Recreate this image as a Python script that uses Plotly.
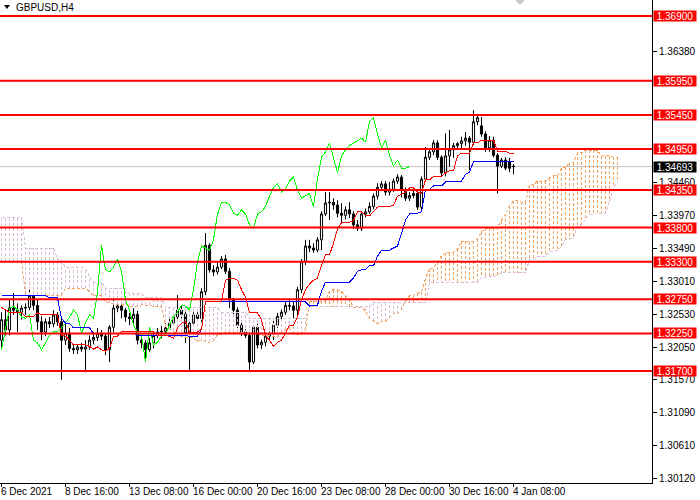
import plotly.graph_objects as go

# ---------------- data (GBPUSD H4) ----------------
time_labels = ["6 Dec 2021", "8 Dec 16:00", "13 Dec 08:00", "16 Dec 00:00", "20 Dec 16:00",
               "23 Dec 08:00", "28 Dec 00:00", "30 Dec 16:00", "4 Jan 08:00"]
label_bars = [0, 16, 32, 48, 64, 80, 96, 112, 128]

open_ = [1.3215, 1.3245, 1.3230, 1.3262, 1.3259, 1.3256, 1.3262, 1.3263, 1.3280, 1.3266,
         1.3242, 1.3227, 1.3242, 1.3239, 1.3252, 1.3242, 1.3215, 1.3225, 1.3203, 1.3201,
         1.3205, 1.3202, 1.3205, 1.3215, 1.3219, 1.3225, 1.3221, 1.3201, 1.3234, 1.3262,
         1.3265, 1.3259, 1.3249, 1.3247, 1.3253, 1.3215, 1.3211, 1.3201, 1.3211, 1.3222,
         1.3227, 1.3228, 1.3233, 1.3240, 1.3249, 1.3259, 1.3253, 1.3225, 1.3240, 1.3252,
         1.3247, 1.3286, 1.3354, 1.3318, 1.3315, 1.3322, 1.3334, 1.3316, 1.3274, 1.3259,
         1.3237, 1.3227, 1.3222, 1.3183, 1.3234, 1.3208, 1.3212, 1.3221, 1.3224, 1.3237,
         1.3250, 1.3256, 1.3266, 1.3265, 1.3259, 1.3289, 1.3330, 1.3353, 1.3350, 1.3347,
         1.3362, 1.3400, 1.3416, 1.3417, 1.3413, 1.3401, 1.3398, 1.3406, 1.3400, 1.3384,
         1.3379, 1.3400, 1.3403, 1.3411, 1.3426, 1.3439, 1.3444, 1.3432, 1.3436, 1.3448,
         1.3454, 1.3435, 1.3423, 1.3427, 1.3430, 1.3410, 1.3451, 1.3483, 1.3491, 1.3504,
         1.3483, 1.3460, 1.3485, 1.3494, 1.3500, 1.3503, 1.3507, 1.3511, 1.3505, 1.3535,
         1.3529, 1.3517, 1.3497, 1.3508, 1.3486, 1.3470, 1.3479, 1.3477, 1.3470]

high = [1.3256, 1.3259, 1.3274, 1.3284, 1.3269, 1.3266, 1.3269, 1.3289, 1.3286, 1.3274,
        1.3250, 1.3247, 1.3249, 1.3259, 1.3256, 1.3247, 1.3242, 1.3233, 1.3209, 1.3209,
        1.3211, 1.3215, 1.3222, 1.3227, 1.3233, 1.3230, 1.3225, 1.3237, 1.3274, 1.3271,
        1.3269, 1.3262, 1.3255, 1.3262, 1.3258, 1.3222, 1.3215, 1.3218, 1.3227, 1.3233,
        1.3236, 1.3240, 1.3247, 1.3253, 1.3281, 1.3265, 1.3258, 1.3245, 1.3256, 1.3256,
        1.3291, 1.3372, 1.3357, 1.3325, 1.3330, 1.3338, 1.3340, 1.3321, 1.3277, 1.3263,
        1.3242, 1.3231, 1.3225, 1.3237, 1.3239, 1.3216, 1.3225, 1.3228, 1.3243, 1.3255,
        1.3260, 1.3271, 1.3274, 1.3271, 1.3293, 1.3334, 1.3362, 1.3362, 1.3357, 1.3366,
        1.3404, 1.3432, 1.3432, 1.3423, 1.3420, 1.3416, 1.3411, 1.3417, 1.3404, 1.3391,
        1.3404, 1.3408, 1.3417, 1.3430, 1.3445, 1.3448, 1.3448, 1.3447, 1.3452, 1.3458,
        1.3457, 1.3439, 1.3432, 1.3436, 1.3435, 1.3455, 1.3498, 1.3495, 1.3508, 1.3508,
        1.3486, 1.3518, 1.3523, 1.3504, 1.3505, 1.3513, 1.3520, 1.3514, 1.3552, 1.3546,
        1.3542, 1.3521, 1.3514, 1.3513, 1.3489, 1.3482, 1.3483, 1.3482, 1.3473]

low = [1.3201, 1.3222, 1.3222, 1.3252, 1.3227, 1.3245, 1.3252, 1.3259, 1.3259, 1.3230,
       1.3215, 1.3221, 1.3233, 1.3234, 1.3236, 1.3157, 1.3208, 1.3198, 1.3195, 1.3195,
       1.3198, 1.3168, 1.3201, 1.3209, 1.3214, 1.3215, 1.3193, 1.3183, 1.3227, 1.3256,
       1.3247, 1.3242, 1.3237, 1.3240, 1.3209, 1.3203, 1.3183, 1.3198, 1.3203, 1.3218,
       1.3218, 1.3225, 1.3230, 1.3236, 1.3245, 1.3247, 1.3211, 1.3171, 1.3236, 1.3242,
       1.3242, 1.3281, 1.3314, 1.3309, 1.3311, 1.3319, 1.3312, 1.3262, 1.3253, 1.3233,
       1.3221, 1.3218, 1.3168, 1.3180, 1.3203, 1.3202, 1.3206, 1.3214, 1.3215, 1.3233,
       1.3246, 1.3252, 1.3259, 1.3247, 1.3247, 1.3284, 1.3325, 1.3344, 1.3343, 1.3344,
       1.3347, 1.3397, 1.3391, 1.3406, 1.3395, 1.3388, 1.3392, 1.3394, 1.3378, 1.3375,
       1.3375, 1.3395, 1.3400, 1.3407, 1.3421, 1.3435, 1.3427, 1.3427, 1.3432, 1.3444,
       1.3424, 1.3419, 1.3419, 1.3423, 1.3406, 1.3403, 1.3447, 1.3479, 1.3486, 1.3479,
       1.3455, 1.3455, 1.3469, 1.3482, 1.3494, 1.3495, 1.3500, 1.3464, 1.3501, 1.3530,
       1.3513, 1.3491, 1.3491, 1.3483, 1.3430, 1.3467, 1.3464, 1.3461, 1.3458]

close = [1.3245, 1.3230, 1.3262, 1.3259, 1.3256, 1.3262, 1.3263, 1.3280, 1.3266, 1.3242,
         1.3227, 1.3242, 1.3239, 1.3252, 1.3242, 1.3215, 1.3225, 1.3203, 1.3201, 1.3205,
         1.3202, 1.3205, 1.3215, 1.3219, 1.3225, 1.3221, 1.3201, 1.3234, 1.3262, 1.3265,
         1.3259, 1.3249, 1.3247, 1.3253, 1.3215, 1.3211, 1.3201, 1.3211, 1.3222, 1.3227,
         1.3228, 1.3233, 1.3240, 1.3249, 1.3259, 1.3253, 1.3225, 1.3240, 1.3252, 1.3247,
         1.3286, 1.3354, 1.3318, 1.3315, 1.3322, 1.3334, 1.3316, 1.3274, 1.3259, 1.3237,
         1.3227, 1.3222, 1.3183, 1.3234, 1.3208, 1.3212, 1.3221, 1.3224, 1.3237, 1.3250,
         1.3256, 1.3266, 1.3265, 1.3259, 1.3289, 1.3330, 1.3353, 1.3350, 1.3347, 1.3362,
         1.3400, 1.3416, 1.3417, 1.3413, 1.3401, 1.3398, 1.3406, 1.3400, 1.3384, 1.3379,
         1.3400, 1.3403, 1.3411, 1.3426, 1.3439, 1.3444, 1.3432, 1.3436, 1.3448, 1.3454,
         1.3435, 1.3423, 1.3427, 1.3430, 1.3410, 1.3451, 1.3483, 1.3491, 1.3504, 1.3483,
         1.3460, 1.3485, 1.3494, 1.3500, 1.3503, 1.3507, 1.3511, 1.3505, 1.3535, 1.3541,
         1.3517, 1.3497, 1.3508, 1.3486, 1.3470, 1.3479, 1.3467, 1.3467, 1.34693]

tenkan = [1.3263, 1.3259, 1.3256, 1.3256, 1.3256, 1.3256, 1.3250, 1.3250, 1.3250, 1.3255,
          1.3252, 1.3252, 1.3252, 1.3252, 1.3252, 1.3222, 1.3221, 1.3215, 1.3208, 1.3208,
          1.3208, 1.3208, 1.3206, 1.3202, 1.3205, 1.3201, 1.3199, 1.3203, 1.3221, 1.3221,
          1.3228, 1.3228, 1.3228, 1.3228, 1.3228, 1.3228, 1.3228, 1.3227, 1.3227, 1.3222,
          1.3222, 1.3222, 1.3221, 1.3218, 1.3233, 1.3240, 1.3243, 1.3227, 1.3227, 1.3227,
          1.3231, 1.3272, 1.3272, 1.3272, 1.3272, 1.3272, 1.3303, 1.3306, 1.3306, 1.3303,
          1.3289, 1.3278, 1.3255, 1.3255, 1.3255, 1.3245, 1.3222, 1.3215, 1.3206, 1.3212,
          1.3215, 1.3225, 1.3237, 1.3237, 1.3249, 1.3274, 1.3289, 1.3297, 1.3303, 1.3306,
          1.3325, 1.3340, 1.3340, 1.3357, 1.3378, 1.3387, 1.3387, 1.3388, 1.3390, 1.3403,
          1.3403, 1.3398, 1.3397, 1.3403, 1.3410, 1.3411, 1.3411, 1.3411, 1.3413, 1.3426,
          1.3429, 1.3432, 1.3438, 1.3438, 1.3432, 1.3430, 1.3450, 1.3450, 1.3455, 1.3455,
          1.3455, 1.3460, 1.3463, 1.3463, 1.3485, 1.3489, 1.3489, 1.3489, 1.3504, 1.3504,
          1.3508, 1.3508, 1.3508, 1.3508, 1.3492, 1.3492, 1.3492, 1.3489, 1.3488]

kijun = [1.3280, 1.3280, 1.3280, 1.3280, 1.3280, 1.3280, 1.3280, 1.3280, 1.3280, 1.3280,
         1.3280, 1.3280, 1.3277, 1.3277, 1.3277, 1.3247, 1.3240, 1.3240, 1.3233, 1.3233,
         1.3233, 1.3233, 1.3233, 1.3225, 1.3225, 1.3225, 1.3225, 1.3225, 1.3225, 1.3225,
         1.3225, 1.3225, 1.3225, 1.3225, 1.3222, 1.3222, 1.3222, 1.3222, 1.3222, 1.3222,
         1.3222, 1.3222, 1.3221, 1.3221, 1.3221, 1.3221, 1.3221, 1.3221, 1.3221, 1.3221,
         1.3231, 1.3271, 1.3271, 1.3271, 1.3271, 1.3271, 1.3271, 1.3271, 1.3271, 1.3271,
         1.3271, 1.3271, 1.3271, 1.3271, 1.3271, 1.3271, 1.3271, 1.3271, 1.3271, 1.3271,
         1.3271, 1.3271, 1.3271, 1.3271, 1.3271, 1.3271, 1.3271, 1.3265, 1.3265, 1.3266,
         1.3287, 1.3300, 1.3300, 1.3300, 1.3300, 1.3300, 1.3300, 1.3300, 1.3306, 1.3316,
         1.3318, 1.3319, 1.3324, 1.3324, 1.3338, 1.3347, 1.3347, 1.3347, 1.3350, 1.3353,
         1.3371, 1.3391, 1.3400, 1.3400, 1.3401, 1.3403, 1.3436, 1.3436, 1.3441, 1.3441,
         1.3441, 1.3447, 1.3448, 1.3448, 1.3448, 1.3448, 1.3458, 1.3461, 1.3477, 1.3477,
         1.3477, 1.3477, 1.3477, 1.3477, 1.3477, 1.3477, 1.3477, 1.3477, 1.3477]

span_a = [1.3331, 1.3331, 1.3331, 1.3331, 1.3331, 1.3331, 1.3281, 1.3281, 1.3281, 1.3281,
          1.3281, 1.3281, 1.3281, 1.3281, 1.3281, 1.3281, 1.3291, 1.3291, 1.3291, 1.3291,
          1.3291, 1.3291, 1.3286, 1.3280, 1.3280, 1.3280, 1.3272, 1.3269, 1.3268, 1.3268,
          1.3268, 1.3268, 1.3265, 1.3265, 1.3265, 1.3267, 1.3266, 1.3266, 1.3264, 1.3264,
          1.3264, 1.3235, 1.3231, 1.3228, 1.3220, 1.3220, 1.3220, 1.3220, 1.3219, 1.3213,
          1.3215, 1.3213, 1.3212, 1.3214, 1.3223, 1.3223, 1.3227, 1.3227, 1.3227, 1.3227,
          1.3225, 1.3225, 1.3225, 1.3225, 1.3225, 1.3222, 1.3222, 1.3222, 1.3221, 1.3219,
          1.3227, 1.3231, 1.3232, 1.3224, 1.3224, 1.3224, 1.3231, 1.3272, 1.3272, 1.3272,
          1.3272, 1.3272, 1.3287, 1.3289, 1.3289, 1.3287, 1.3280, 1.3275, 1.3263, 1.3263,
          1.3263, 1.3258, 1.3247, 1.3243, 1.3239, 1.3242, 1.3243, 1.3248, 1.3254, 1.3254,
          1.3260, 1.3272, 1.3280, 1.3281, 1.3284, 1.3286, 1.3306, 1.3320, 1.3320, 1.3329,
          1.3339, 1.3343, 1.3343, 1.3344, 1.3348, 1.3360, 1.3360, 1.3359, 1.3360, 1.3363,
          1.3374, 1.3379, 1.3379, 1.3379, 1.3381, 1.3390, 1.3400, 1.3412, 1.3419, 1.3419,
          1.3417, 1.3417, 1.3443, 1.3443, 1.3448, 1.3448, 1.3448, 1.3453, 1.3456, 1.3456,
          1.3467, 1.3469, 1.3474, 1.3475, 1.3490, 1.3490, 1.3493, 1.3493, 1.3493, 1.3493,
          1.3485, 1.3485, 1.3485, 1.3483, 1.3483]

span_b = [1.3395, 1.3395, 1.3395, 1.3395, 1.3395, 1.3395, 1.3350, 1.3350, 1.3350, 1.3350,
          1.3350, 1.3350, 1.3350, 1.3350, 1.3333, 1.3333, 1.3321, 1.3321, 1.3321, 1.3321,
          1.3321, 1.3321, 1.3308, 1.3300, 1.3300, 1.3300, 1.3291, 1.3291, 1.3291, 1.3291,
          1.3291, 1.3291, 1.3283, 1.3283, 1.3283, 1.3283, 1.3277, 1.3277, 1.3277, 1.3277,
          1.3277, 1.3263, 1.3263, 1.3263, 1.3263, 1.3263, 1.3263, 1.3263, 1.3263, 1.3263,
          1.3263, 1.3263, 1.3263, 1.3263, 1.3263, 1.3256, 1.3256, 1.3256, 1.3256, 1.3256,
          1.3256, 1.3256, 1.3247, 1.3247, 1.3247, 1.3247, 1.3247, 1.3247, 1.3247, 1.3247,
          1.3247, 1.3247, 1.3247, 1.3247, 1.3247, 1.3247, 1.3247, 1.3264, 1.3264, 1.3264,
          1.3264, 1.3264, 1.3264, 1.3264, 1.3264, 1.3264, 1.3264, 1.3264, 1.3264, 1.3264,
          1.3264, 1.3264, 1.3264, 1.3270, 1.3270, 1.3270, 1.3270, 1.3270, 1.3270, 1.3270,
          1.3270, 1.3270, 1.3270, 1.3270, 1.3270, 1.3270, 1.3270, 1.3300, 1.3300, 1.3300,
          1.3300, 1.3300, 1.3300, 1.3300, 1.3300, 1.3300, 1.3300, 1.3300, 1.3300, 1.3300,
          1.3307, 1.3308, 1.3308, 1.3308, 1.3311, 1.3314, 1.3314, 1.3314, 1.3314, 1.3314,
          1.3314, 1.3314, 1.3333, 1.3333, 1.3338, 1.3338, 1.3338, 1.3344, 1.3346, 1.3346,
          1.3352, 1.3363, 1.3363, 1.3365, 1.3383, 1.3384, 1.3393, 1.3399, 1.3400, 1.3400,
          1.3400, 1.3400, 1.3418, 1.3439, 1.3448]

levels = [1.3690, 1.3595, 1.3545, 1.3495, 1.3435, 1.3380, 1.3330, 1.3275, 1.3225, 1.3170]
level_labels = ["1.36900", "1.35950", "1.35450", "1.34950", "1.34350",
                "1.33800", "1.33300", "1.32750", "1.32250", "1.31700"]
price_ticks = [1.36380, 1.34460, 1.33970, 1.33490, 1.33010, 1.32530, 1.32050,
               1.31570, 1.31090, 1.30610, 1.30120]
bid_price = 1.34693
bid_label = "1.34693"
chikou_shift = 26

# ---------------- figure ----------------
FONT = "Liberation Sans"
PW, PH = 652, 483          # plot area in pixels
ORANGE = "#F4A460"
THISTLE = "#D8BFD8"

fig = go.Figure()
bars = list(range(len(close)))
cloud_x = list(range(len(span_a)))

# cloud hatching (one dotted vertical line per bar)
hx_o, hy_o, hx_t, hy_t = [], [], [], []
for i, a, b in zip(cloud_x, span_a, span_b):
    if a >= b:
        hx_o += [i, i, None]; hy_o += [a, b, None]
    else:
        hx_t += [i, i, None]; hy_t += [a, b, None]
hatch_line = dict(width=1, dash="3px,2px")
fig.add_trace(go.Scatter(x=hx_o, y=hy_o, mode="lines", line=dict(color=ORANGE, **hatch_line),
                         hoverinfo="skip", showlegend=False))
fig.add_trace(go.Scatter(x=hx_t, y=hy_t, mode="lines", line=dict(color=THISTLE, **hatch_line),
                         hoverinfo="skip", showlegend=False))
fig.add_trace(go.Scatter(x=cloud_x, y=span_a, mode="lines", line=dict(color=ORANGE, **hatch_line),
                         hoverinfo="skip", showlegend=False))
fig.add_trace(go.Scatter(x=cloud_x, y=span_b, mode="lines", line=dict(color=THISTLE, **hatch_line),
                         hoverinfo="skip", showlegend=False))

# candles
fig.add_trace(go.Candlestick(
    x=bars, open=open_, high=high, low=low, close=close,
    increasing=dict(line=dict(color="black", width=1), fillcolor="white"),
    decreasing=dict(line=dict(color="black", width=1), fillcolor="black"),
    whiskerwidth=0, hoverinfo="skip", showlegend=False))

# chikou, kijun, tenkan
fig.add_trace(go.Scatter(x=[i - chikou_shift for i in bars[chikou_shift:]], y=close[chikou_shift:],
                         mode="lines", line=dict(color="#00FF00", width=1), hoverinfo="skip", showlegend=False))
fig.add_trace(go.Scatter(x=bars, y=kijun, mode="lines", line=dict(color="#0000FF", width=1),
                         hoverinfo="skip", showlegend=False))
fig.add_trace(go.Scatter(x=bars, y=tenkan, mode="lines", line=dict(color="#FF0000", width=1),
                         hoverinfo="skip", showlegend=False))

shapes = []
shapes.append(dict(type="line", xref="paper", x0=0, x1=1, yref="y", y0=bid_price, y1=bid_price,
                   line=dict(color="#C0C0C0", width=1), layer="below"))
for lv in levels:
    shapes.append(dict(type="line", xref="paper", x0=0, x1=1, yref="y", y0=lv, y1=lv,
                       line=dict(color="#FF0000", width=2), layer="above"))
shapes.append(dict(type="path", xref="paper", yref="paper",
                   path=f"M {4/PW} {1-5/PH} L {10/PW} {1-5/PH} L {7/PW} {1-9/PH} Z",
                   fillcolor="black", line=dict(width=0)))
shapes.append(dict(type="path", xref="paper", yref="paper",
                   path=f"M {515/PW} {1} L {525/PW} {1} L {520/PW} {1-5/PH} Z",
                   fillcolor="#C8C8C8", line=dict(width=0)))

annotations = []
for lv, txt in zip(levels, level_labels):
    annotations.append(dict(xref="paper", x=1, xanchor="left", xshift=1, yref="y", y=lv, yanchor="middle",
                            text=txt, showarrow=False, bgcolor="#FF0000", borderpad=0.5,
                            width=41, height=9, font=dict(family=FONT, size=10, color="white")))
annotations.append(dict(xref="paper", x=1, xanchor="left", xshift=1, yref="y", y=bid_price, yanchor="middle",
                        text=bid_label, showarrow=False, bgcolor="black", borderpad=0.5,
                        width=41, height=9, font=dict(family=FONT, size=10, color="white")))
for b, txt in zip(label_bars, time_labels):
    annotations.append(dict(xref="x", x=b, xanchor="left", xshift=-2, yref="paper", y=0, yanchor="top",
                            yshift=-2, text=txt, showarrow=False, borderpad=0,
                            font=dict(family=FONT, size=10, color="black")))
annotations.append(dict(xref="paper", x=15/PW, xanchor="left", yref="paper", y=1, yanchor="top", yshift=-1,
                        text="GBPUSD,H4", showarrow=False, borderpad=0,
                        font=dict(family=FONT, size=10, color="black")))

fig.update_layout(
    width=700, height=500,
    margin=dict(l=0, r=48, t=0, b=17, pad=0),
    paper_bgcolor="white", plot_bgcolor="white",
    showlegend=False, boxgap=0.25,
    shapes=shapes, annotations=annotations,
    font=dict(family=FONT, size=10, color="black"),
    xaxis=dict(range=[-0.375, 162.625], showgrid=False, zeroline=False, showline=True,
               linecolor="black", linewidth=1, ticks="outside", ticklen=3, tickcolor="black",
               tickvals=label_bars, showticklabels=False, rangeslider=dict(visible=False),
               fixedrange=True),
    yaxis=dict(side="right", range=[1.30058, 1.37134], showgrid=False, zeroline=False,
               showline=True, linecolor="black", linewidth=1, ticks="outside", ticklen=4,
               tickcolor="black", tickvals=price_ticks, ticktext=[f"{v:.5f}" for v in price_ticks],
               tickfont=dict(family=FONT, size=10, color="black"), fixedrange=True),
)

post = (
    "document.body.style.margin='0px';document.body.style.padding='0px';"
    "document.querySelectorAll('.scatterlayer .js-line').forEach(function(p){"
    "p.style.shapeRendering='crispEdges';});"
)
fig.write_html("out.html", config={"displayModeBar": False, "staticPlot": True}, post_script=post)
